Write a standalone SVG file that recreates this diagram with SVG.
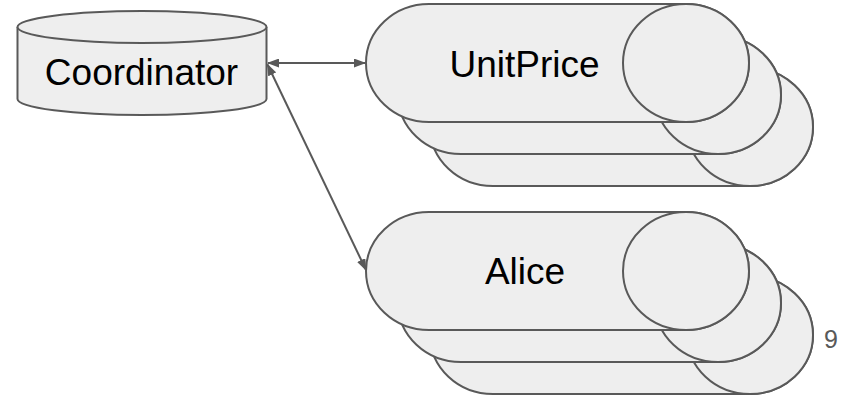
<svg xmlns="http://www.w3.org/2000/svg" xmlns:xlink="http://www.w3.org/1999/xlink" width="844" height="399" viewBox="0 0 844 399">
  <style>
    .shape { fill: #eeeeee; stroke: #595959; stroke-width: 2; stroke-linejoin: round; }
    .label { font-family: "Liberation Sans", Arial, sans-serif; font-size: 37px; fill: #000000; text-anchor: middle; }
    .conn { stroke: #595959; stroke-width: 2; fill: none; }
    .num { font-family: "Liberation Sans", Arial, sans-serif; font-size: 25px; fill: #595959; }
  </style>
  <defs>
    <marker id="arrow" markerUnits="userSpaceOnUse" viewBox="0 0 12 9" refX="11" refY="4.5" markerWidth="12" markerHeight="9" orient="auto-start-reverse">
      <path d="M0,0 L12,4.5 L0,9 Z" fill="#595959"/>
    </marker>
    <g id="hcyl">
      <path class="shape" d="M63,0 L320,0 A63,59 0 0 1 320,118 L63,118 A63,59 0 0 1 63,0 Z"/>
      <ellipse class="shape" cx="320" cy="59" rx="63" ry="59"/>
    </g>
  </defs>

  <g id="coordinator">
    <path class="shape" d="M17.5,27 A124.5,16 0 0 1 266.5,27 L266.5,99 A124.5,16 0 0 1 17.5,99 Z"/>
    <path class="shape" fill="none" d="M17.5,27 A124.5,16 0 0 0 266.5,27"/>
    <text class="label" x="141.5" y="85">Coordinator</text>
  </g>

  <g id="unitprice">
    <use xlink:href="#hcyl" href="#hcyl" transform="translate(430,68)"/>
    <use xlink:href="#hcyl" href="#hcyl" transform="translate(398,36)"/>
    <use xlink:href="#hcyl" href="#hcyl" transform="translate(366,4)"/>
    <text class="label" x="524.5" y="77">UnitPrice</text>
  </g>

  <g id="alice">
    <use xlink:href="#hcyl" href="#hcyl" transform="translate(430,276)"/>
    <use xlink:href="#hcyl" href="#hcyl" transform="translate(398,244)"/>
    <use xlink:href="#hcyl" href="#hcyl" transform="translate(366,212)"/>
    <text class="label" x="525" y="284">Alice</text>
  </g>

  <g id="connectors">
    <line class="conn" x1="268" y1="63" x2="365" y2="63" marker-start="url(#arrow)" marker-end="url(#arrow)"/>
    <line class="conn" x1="267.5" y1="64.5" x2="366" y2="270" marker-start="url(#arrow)" marker-end="url(#arrow)"/>
  </g>

  <text class="num" x="824" y="348">9</text>
</svg>
